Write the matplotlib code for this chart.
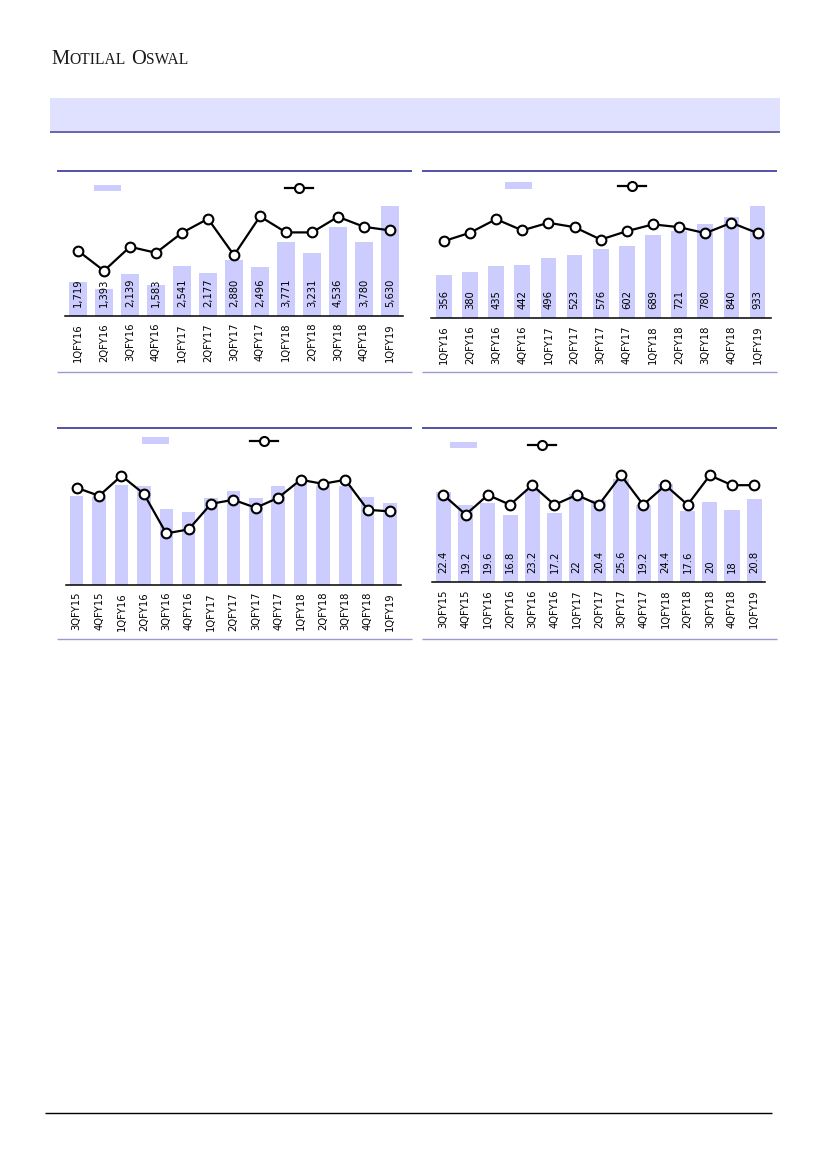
import numpy as np
import matplotlib
matplotlib.use("Agg")
import matplotlib.pyplot as plt
from matplotlib.patches import Rectangle
from matplotlib.lines import Line2D

# ---- data ----
q_fy16_fy19 = ['1QFY16', '2QFY16', '3QFY16', '4QFY16', '1QFY17', '2QFY17', '3QFY17',
               '4QFY17', '1QFY18', '2QFY18', '3QFY18', '4QFY18', '1QFY19']
q_fy15_fy19 = ['3QFY15', '4QFY15'] + q_fy16_fy19

c1_bars = [1719, 1393, 2139, 1583, 2541, 2177, 2880, 2496, 3771, 3231, 4536, 3780, 5630]
c1_line = [16.3, 11.3, 17.3, 15.8, 20.8, 24.3, 15.2, 24.9, 20.9, 20.9, 24.8, 22.3, 21.4]

c2_bars = [356, 380, 435, 442, 496, 523, 576, 602, 689, 721, 780, 840, 933]
c2_line = [19.3, 21.4, 24.8, 22.0, 23.9, 22.8, 19.7, 21.8, 23.5, 22.8, 21.3, 23.9, 21.3]

c3_bars = [22.3, 22.0, 25.0, 24.8, 19.1, 18.3, 21.8, 23.4, 21.8, 24.8, 25.3, 24.8, 24.8, 21.9, 20.6]
c3_line = [24.3, 22.3, 27.3, 22.8, 12.9, 13.9, 20.3, 21.3, 19.3, 21.8, 26.3, 25.3, 26.3, 18.8, 18.4]

c4_bars = [22.4, 19.2, 19.6, 16.8, 23.2, 17.2, 22, 20.4, 25.6, 19.2, 24.4, 17.6, 20, 18, 20.8]
c4_line = [7, 5, 7, 6, 8, 6, 7, 6, 9, 6, 8, 6, 9, 8, 8]

W, H = 827, 1169
BAR_C = '#CCCCFF'

fig = plt.figure(figsize=(W / 100, H / 100), dpi=100)


def fx(x):
    return x / W


def fy(y):
    return 1 - y / H


def hline(x0, x1, y, color, lw):
    fig.add_artist(Line2D([fx(x0), fx(x1)], [fy(y), fy(y)], transform=fig.transFigure,
                          color=color, lw=lw, solid_capstyle='butt'))


def legend_keys(sw_x, sw_y, ln_x, ln_y):
    # empty legend: swatch + line/marker, no text
    fig.add_artist(Rectangle((fx(sw_x), fy(sw_y + 6.5)), 27 / W, 6.5 / H, transform=fig.transFigure,
                             facecolor=BAR_C, edgecolor='none'))
    fig.add_artist(Line2D([fx(ln_x), fx(ln_x + 28)], [fy(ln_y)] * 2, transform=fig.transFigure,
                          color='black', lw=1.6))
    fig.add_artist(Line2D([fx(ln_x + 14)], [fy(ln_y)], transform=fig.transFigure, marker='o',
                          ms=6.5, mfc='white', mec='black', mew=1.5))


def chart(left, right, top, bottom, labels, bars, line, ylim, ylim2, bar_w, fmt=None):
    ax = fig.add_axes([fx(left), fy(bottom), (right - left) / W, (bottom - top) / H])
    x = np.arange(len(labels))
    ax.bar(x, bars, width=bar_w, color=BAR_C, zorder=1)
    ax.set_xlim(-0.5, len(labels) - 0.5)
    ax.set_ylim(*ylim)
    for s in ['top', 'left', 'right']:
        ax.spines[s].set_visible(False)
    ax.spines['bottom'].set_linewidth(1.1)
    ax.set_yticks([])
    ax.set_xticks(x)
    ax.set_xticklabels(labels, rotation=90, fontsize=7.2)
    ax.tick_params(axis='x', length=0, pad=5)
    if fmt is not None:
        for xi, v in zip(x, bars):
            ax.annotate(fmt(v), (xi, 0), xytext=(0, 6.5), textcoords='offset points',
                        rotation=90, ha='center', va='bottom', fontsize=7.2)
    ax2 = ax.twinx()
    ax2.plot(x, line, color='black', lw=1.6, marker='o', ms=7, mfc='white', mec='black',
             mew=1.5, clip_on=False, zorder=3)
    ax2.set_ylim(*ylim2)
    ax2.axis('off')
    return ax


# ---- page furniture ----
# logo in small caps
renderer = fig.canvas.get_renderer()
xpos = fx(51)
for s, size, gap in [('M', 14.8, 0), ('OTILAL', 11.2, 4), ('O', 14.8, 0), ('SWAL', 11.2, 0)]:
    t = fig.text(xpos, fy(64.3), s, fontsize=size, family='Liberation Serif', va='baseline',
                 color='#1a1a1a')
    bb = t.get_window_extent(renderer)
    xpos += (bb.width + gap + 0.6) / W

fig.add_artist(Rectangle((fx(50), fy(131)), 730 / W, 33 / H, transform=fig.transFigure,
                         facecolor='#E0E0FF', edgecolor='none'))
hline(50, 780, 131.5, '#4B4B9B', 1.2)
hline(45, 772, 1113.3, 'black', 1.0)

# panel frame lines
for x0, x1 in [(57, 412), (422, 777)]:
    hline(x0, x1, 171, '#333399', 1.2)
    hline(x0, x1, 371.5, '#9A9AD6', 1.0)
    hline(x0, x1, 428.3, '#333399', 1.2)
    hline(x0, x1, 639, '#9A9AD6', 1.0)

# ---- charts ----
chart(65, 403, 190, 316, q_fy16_fy19, c1_bars, c1_line, (0, 6450), (0, 31.5), 0.69,
      fmt=lambda v: f'{v:,.0f}')
legend_keys(93.5, 184.5, 285, 187.7)

chart(430.7, 770.7, 190, 318.3, q_fy16_fy19, c2_bars, c2_line, (0, 1063), (0, 32.1), 0.6,
      fmt=lambda v: f'{v:,.0f}')
legend_keys(505, 182.3, 618, 185.7)

chart(65.5, 401.3, 445, 585, q_fy15_fy19, c3_bars, c3_line, (0, 35), (0, 35), 0.6)
legend_keys(142, 437.3, 250, 441)

chart(432.4, 765.3, 445, 582.3, q_fy15_fy19, c4_bars, c4_line, (0, 34.1), (-1.91, 12.1), 0.68,
      fmt=lambda v: f'{v:g}')
legend_keys(449.5, 441.7, 528.3, 445)

fig.savefig('out.png', dpi=100)
